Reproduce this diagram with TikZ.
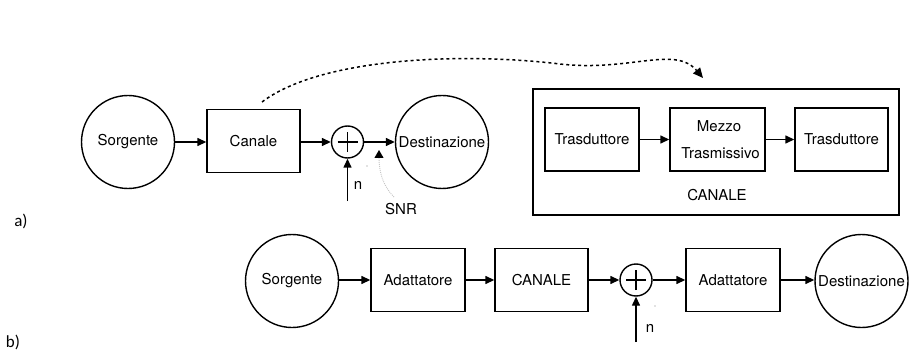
\documentclass[tikz,border=0pt]{standalone}
\usepackage{fontspec}
\setmainfont{TeX Gyre Heros}
\newfontfamily\labfont{Carlito}
\usetikzlibrary{arrows.meta}
\begin{document}
\begin{tikzpicture}[x=1pt,y=-1pt,
  txt/.style={font=\fontsize{15}{17}\selectfont},
  blk/.style={draw, line width=1.4pt, minimum width=94pt, minimum height=63pt, inner sep=0pt, txt},
  circ/.style={draw, circle, line width=1.4pt, minimum size=93pt, inner sep=0pt, txt},
  sumnode/.style={draw, circle, line width=1.4pt, minimum size=32pt, inner sep=0pt,
    path picture={\draw[line width=1.9pt] ([xshift=-10pt]path picture bounding box.center) -- ++(20pt,0pt);
                  \draw[line width=1.9pt] ([yshift=-10pt]path picture bounding box.center) -- ++(0pt,20pt);}},
  arr/.style={-{Triangle[length=9pt,width=8pt]}, line width=1.4pt},
  lab/.style={font=\labfont\fontsize{17}{19}\selectfont, inner sep=0pt}]
\useasboundingbox (0,0) rectangle (909,358);

% ---- a) ----
\node[lab] (la) at (21,221) {a)};
\node[circ] (s1) at (128,142) {Sorgente};
\node[blk, minimum width=93pt] (c1) at (253.5,141) {Canale};
\node[sumnode] (p1) at (347.5,142) {};
\node[circ] (d1) at (442,142) {Destinazione};
\draw[arr] (s1.east) -- (s1.east -| c1.west);
\draw[arr] (c1.east |- p1.west) -- (p1.west);
\draw[arr] (p1.east) -- (p1.east -| d1.west);
\coordinate (n1) at (347.5,201);
\draw[arr] (n1) -- (p1.south);
\node[txt, inner sep=0pt] (nl1) at (358,185) {n};
\node[txt, inner sep=0pt] (snr) at (401,209) {SNR};
\coordinate (snrtip) at (379,150);
\draw[gray!45, line width=0.9pt, dash pattern=on 1pt off 1pt, -{Triangle[length=8pt,width=9pt,color=black]}]
  ([xshift=-7pt,yshift=6pt]snr.north) .. controls (383,186) and (379,172) .. (snrtip);
\fill[gray] (367,166) circle (0.6pt);

% big CANALE box
\node[draw, line width=1.4pt, minimum width=366pt, minimum height=126pt] (big) at (716,152) {};
\node[blk] (t1) at (592,139.5) {Trasduttore};
\node[blk, minimum width=95pt, align=center, font=\fontsize{15}{27}\selectfont] (mz) at (717.5,139.5) {\hspace*{3pt}Mezzo\\\hspace*{6pt}Trasmissivo};
\node[blk, minimum width=93pt] (t2) at (841.5,139.5) {Trasduttore};
\draw[arr] (t1.east) -- (mz.west);
\draw[arr] (mz.east) -- (t2.west);
\node[txt, inner sep=0pt] (cl) at (717,195) {CANALE};

% dotted link
\coordinate (dstart) at (262,102);
\coordinate (dend) at (703,78);
\draw[line width=1.5pt, dash pattern=on 3pt off 3pt, -{Triangle[length=10pt,width=9pt]}]
  (dstart) .. controls (320,58) and (460,52) .. (560,64) .. controls (630,72) and (675,45) .. (dend);

% ---- b) ----
\node[lab] (lb) at (13,342) {b)};
\node[circ] (s2) at (292,281) {Sorgente};
\node[blk] (a1) at (418,280) {Adattatore};
\node[blk, minimum width=93pt] (ch) at (541.5,280) {CANALE};
\node[sumnode] (p2) at (636,280) {};
\node[blk] (a2) at (733,280) {Adattatore};
\node[circ] (d2) at (861.5,281) {Destinazione};
\draw[arr] (s2.east |- a1.west) -- (a1.west);
\draw[arr] (a1.east) -- (ch.west);
\draw[arr] (ch.east) -- (p2.west);
\draw[arr] (p2.east) -- (a2.west);
\draw[arr] (a2.east) -- (a2.east -| d2.west);
\coordinate (n2) at (636,342);
\draw[arr] (n2) -- (p2.south);
\node[txt, inner sep=0pt] (nl2) at (650,328) {n};
\fill[gray] (655,306) circle (0.6pt);
\end{tikzpicture}
\end{document}
